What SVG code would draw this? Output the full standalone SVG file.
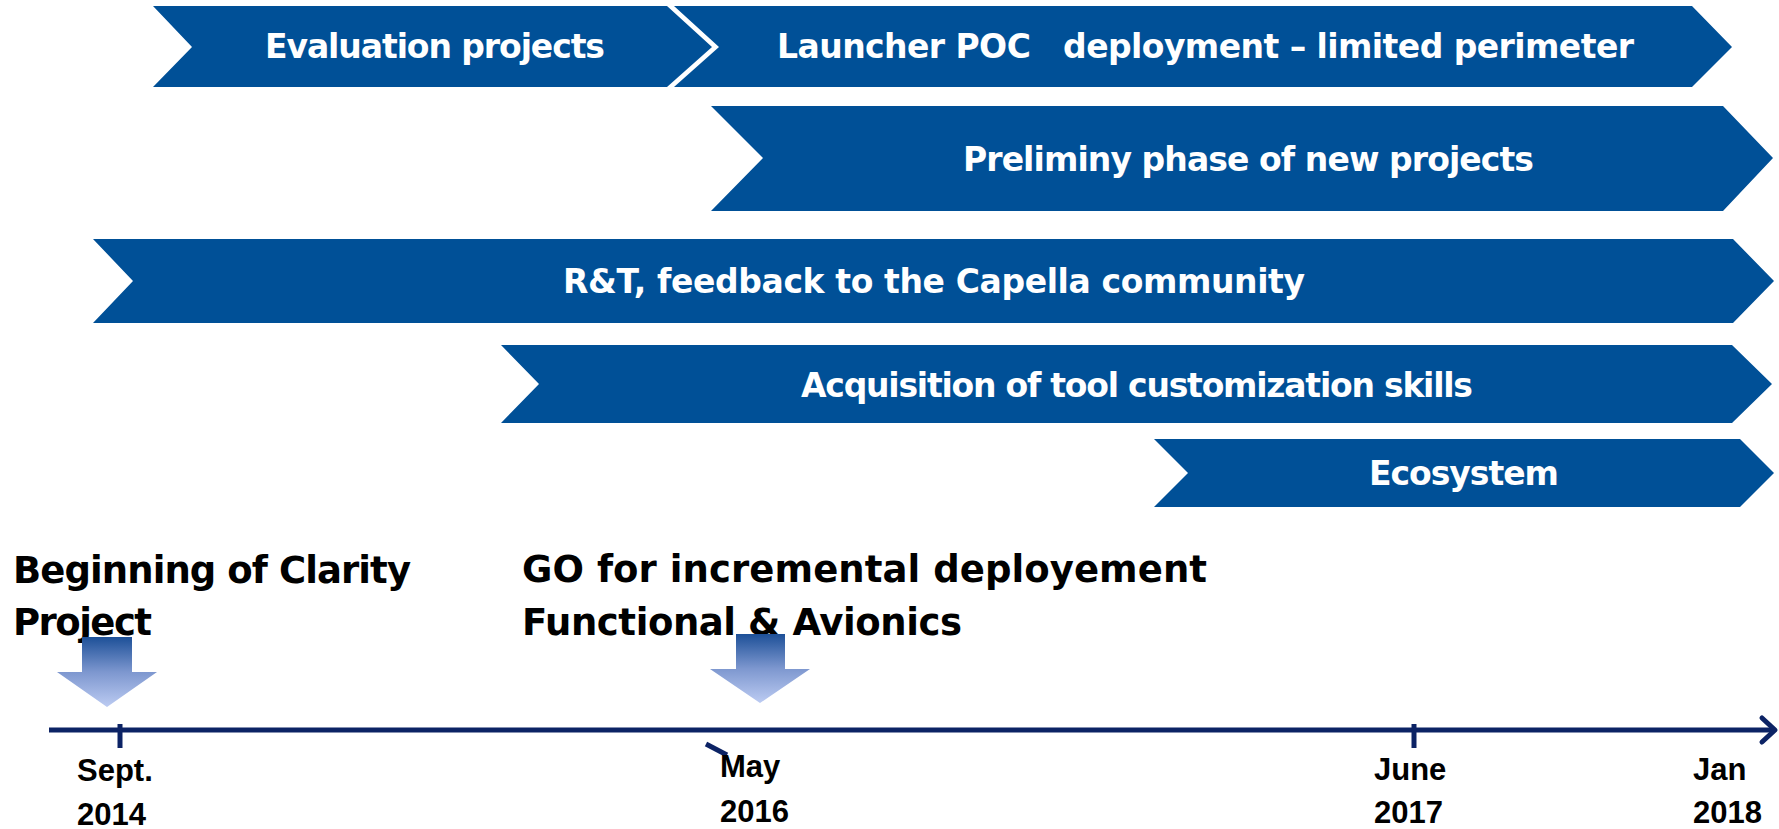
<svg xmlns="http://www.w3.org/2000/svg" width="1779" height="829" viewBox="0 0 1779 829">
<style>
.chev{fill:#005097;}
.lbl{font-family:"DejaVu Sans",sans-serif;font-weight:bold;font-size:33px;fill:#ffffff;}
.head{font-family:"DejaVu Sans",sans-serif;font-weight:bold;font-size:37px;fill:#000000;}
.date{font-family:"Liberation Sans",Arial,sans-serif;font-weight:bold;font-size:31px;fill:#000000;}
.axis{stroke:#0c2365;stroke-width:5;fill:none;}
.big{fill:url(#grad);}
</style>
<defs>
<linearGradient id="grad" x1="0" y1="0" x2="0" y2="1">
<stop offset="0" stop-color="#1d5098"/>
<stop offset="0.5" stop-color="#7d97cf"/>
<stop offset="1" stop-color="#bccbf2"/>
</linearGradient>
</defs>
<rect width="1779" height="829" fill="#ffffff"/>

<g id="evaluation">
<polygon class="chev" points="153,6 667,6 712,47 667,87 153,87 192,47"/>
<text class="lbl" x="265" y="58" textLength="340">Evaluation projects</text>
</g>
<g id="launcher">
<polygon class="chev" points="674,6 1692,6 1732,47 1692,87 674,87 719,47"/>
<text class="lbl" x="777" y="58" textLength="857" xml:space="preserve">Launcher POC   deployment – limited perimeter</text>
</g>
<g id="preliminy">
<polygon class="chev" points="711,106 1723,106 1773,158 1723,211 711,211 763,158"/>
<text class="lbl" x="963" y="171" textLength="571">Preliminy phase of new projects</text>
</g>
<g id="rt">
<polygon class="chev" points="93,239 1733,239 1774,281 1733,323 93,323 133,281"/>
<text class="lbl" x="563" y="293" textLength="742">R&amp;T, feedback to the Capella community</text>
</g>
<g id="acquisition">
<polygon class="chev" points="501,345 1732,345 1772,384 1732,423 501,423 539,384"/>
<text class="lbl" x="801" y="397" textLength="672">Acquisition of tool customization skills</text>
</g>
<g id="ecosystem">
<polygon class="chev" points="1154,439 1740,439 1774,473 1740,507 1154,507 1188,473"/>
<text class="lbl" x="1369" y="485" textLength="190">Ecosystem</text>
</g>

<g id="milestone-start">
<text class="head" x="13" y="583" textLength="398">Beginning of Clarity</text>
<text class="head" x="13" y="635" textLength="139">Project</text>
<polygon class="big" points="82,637 132,637 132,672 157,672 107,707 57,672 82,672"/>
</g>
<g id="milestone-go">
<text class="head" x="522" y="582" textLength="685">GO for incremental deployement</text>
<text class="head" x="522" y="635" textLength="440">Functional &amp; Avionics</text>
<polygon class="big" points="736,634 785,634 785,669 810,669 760,703 710,669 736,669"/>
</g>

<g id="connectors">
<line class="axis" x1="49" y1="730" x2="1775" y2="730"/>
<polyline class="axis" points="1762,718 1775,730 1762,742" stroke-linecap="round" stroke-linejoin="round"/>
<line class="axis" x1="120" y1="724" x2="120" y2="748"/>
<line class="axis" x1="706" y1="744" x2="727" y2="755"/>
<line class="axis" x1="1414" y1="724" x2="1414" y2="748"/>
</g>

<g id="dates">
<text class="date" x="77" y="781">Sept.</text>
<text class="date" x="77" y="825">2014</text>
<text class="date" x="720" y="777">May</text>
<text class="date" x="720" y="822">2016</text>
<text class="date" x="1374" y="780">June</text>
<text class="date" x="1374" y="823">2017</text>
<text class="date" x="1693" y="780">Jan</text>
<text class="date" x="1693" y="823">2018</text>
</g>
</svg>
